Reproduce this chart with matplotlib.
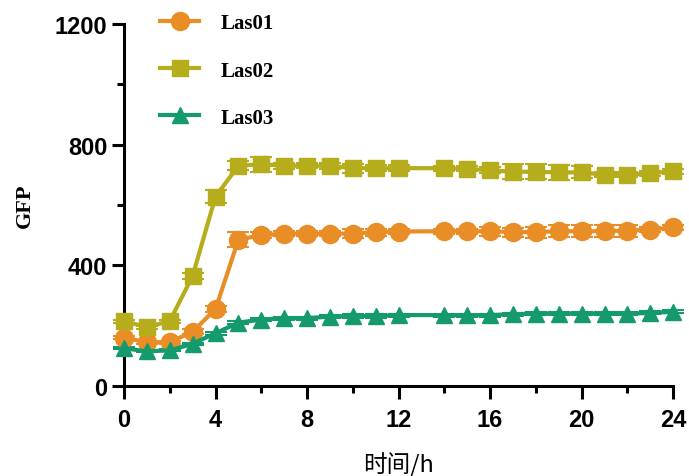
import matplotlib
matplotlib.use("Agg")
import matplotlib.pyplot as plt
from matplotlib.lines import Line2D
from matplotlib.ticker import MultipleLocator

plt.rcParams['font.family'] = ['Liberation Sans', 'DejaVu Sans']

hours = [0, 1, 2, 3, 4, 5, 6, 7, 8, 9, 10, 11, 12,
         14, 15, 16, 17, 18, 19, 20, 21, 22, 23, 24]

las01 = [160, 145, 145, 180, 255, 485, 500, 505, 505, 505, 505, 510, 512,
         513, 513, 513, 510, 510, 513, 513, 513, 515, 518, 526]
las01_err = [5, 5, 5, 8, 10, 25, 10, 8, 8, 8, 15, 12, 8,
             8, 8, 15, 15, 18, 20, 20, 20, 20, 8, 8]

las02 = [215, 195, 215, 365, 628, 730, 735, 730, 730, 730, 722, 722, 722,
         722, 720, 715, 710, 710, 708, 708, 700, 700, 705, 712]
las02_err = [5, 5, 5, 10, 20, 15, 25, 10, 8, 10, 15, 10, 10,
             8, 8, 10, 25, 25, 25, 20, 8, 8, 8, 8]

las03 = [125, 115, 118, 140, 175, 210, 220, 225, 225, 230, 232, 232, 235,
         235, 235, 235, 238, 240, 240, 240, 240, 240, 242, 246]
las03_err = [3, 3, 3, 3, 5, 5, 5, 5, 5, 5, 5, 5, 5,
             5, 5, 5, 5, 5, 5, 5, 5, 5, 5, 5]

series = [
    ("Las01", las01, las01_err, "#E98E26", "o", 13),
    ("Las02", las02, las02_err, "#B5AD1C", "s", 12),
    ("Las03", las03, las03_err, "#149A6C", "^", 11),
]

fig = plt.figure(figsize=(6.89, 4.77), dpi=100)
ax = fig.add_axes([0.1800, 0.1887, 0.797, 0.759])

handles = []
for name, vals, err, col, mk, ms in series:
    ax.errorbar(hours, vals, yerr=err, color=col, marker=mk, markersize=ms,
                linewidth=3, elinewidth=1.5, capsize=8, capthick=1.5,
                clip_on=False, zorder=3)
    handles.append(Line2D([], [], color=col, marker=mk, markersize=ms,
                          linewidth=3, label=name))

ax.set_xlim(0, 24)
ax.set_ylim(0, 1200)
ax.xaxis.set_major_locator(MultipleLocator(4))
ax.xaxis.set_minor_locator(MultipleLocator(2))
ax.yaxis.set_major_locator(MultipleLocator(400))
ax.yaxis.set_minor_locator(MultipleLocator(200))

for side in ("top", "right"):
    ax.spines[side].set_visible(False)
for side in ("left", "bottom"):
    ax.spines[side].set_linewidth(2.2)

ax.tick_params(which="major", length=9, width=2.2, labelsize=17)
ax.tick_params(axis="x", which="major", pad=7)
ax.tick_params(axis="y", which="major", pad=3)
ax.tick_params(which="minor", length=5, width=2.2)
for lbl in ax.get_xticklabels() + ax.get_yticklabels():
    lbl.set_fontweight("bold")

ax.set_ylabel("GFP", family=["Liberation Serif"], fontweight="bold",
              fontsize=16, labelpad=14)
ax.set_xlabel("时间/h", family=["Noto Sans CJK SC", "DejaVu Sans"],
              fontsize=17, labelpad=15)

ax.legend(handles=handles, loc="upper left", bbox_to_anchor=(0.05, 1.052),
          frameon=False,
          prop={"family": "Liberation Serif", "weight": "bold", "size": 15},
          labelspacing=1.3, handlelength=1.9, handletextpad=1.0,
          borderaxespad=0.0)

fig.savefig("out.png", dpi=100)
